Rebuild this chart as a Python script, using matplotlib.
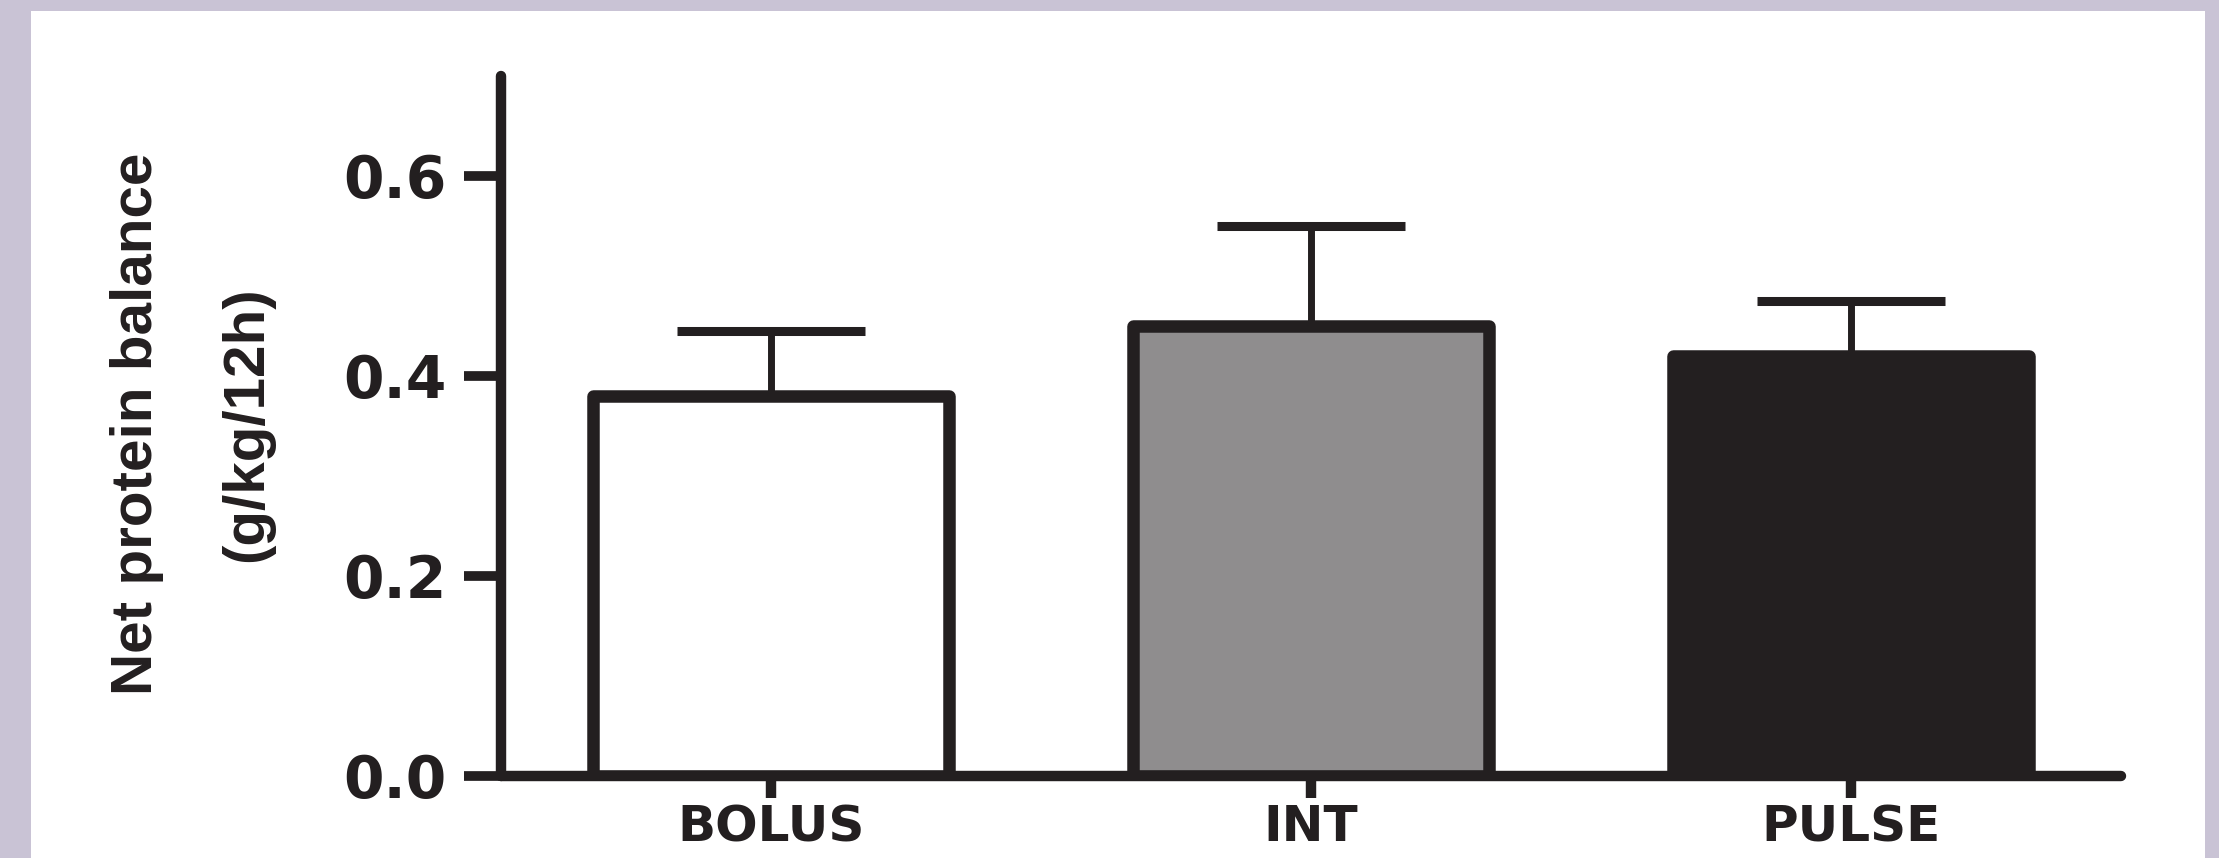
import matplotlib
matplotlib.use("Agg")
import matplotlib.pyplot as plt
from matplotlib.patches import Rectangle
import numpy as np

groups = ["BOLUS", "INT", "PULSE"]
balance = [0.38, 0.45, 0.42]
balance_sem = [0.065, 0.10, 0.055]
bar_colors = ["#ffffff", "#8f8d8e", "#231f20"]
y_ticks = [0.0, 0.2, 0.4, 0.6]
y_tick_labels = ["0.0", "0.2", "0.4", "0.6"]

ink = "#231f20"
W, H = 2219, 858

fig = plt.figure(figsize=(W / 100, H / 100), dpi=100, facecolor="#c9c3d5")
# white panel on the lavender frame
fig.add_artist(Rectangle((31 / W, 0), (2205 - 31) / W, (H - 11) / H,
                         transform=fig.transFigure, facecolor="white",
                         edgecolor="none", zorder=-1))

ax = fig.add_axes([501 / W, 82.5 / H, 1620 / W, 700 / H])
ax.set_facecolor("none")

x = np.arange(len(groups))
ax.errorbar(x, balance, yerr=[np.zeros(len(x)), balance_sem], fmt="none",
            ecolor=ink, elinewidth=5, capsize=68, capthick=6.5, zorder=1)
bars = ax.bar(x, balance, width=0.66, color=bar_colors, edgecolor=ink,
              linewidth=9, zorder=2)
for b in bars:
    b.set_joinstyle("round")

ax.set_xlim(-0.5, 2.5)
ax.set_ylim(0, 0.7)

for side in ["top", "right"]:
    ax.spines[side].set_visible(False)
for side in ["left", "bottom"]:
    ax.spines[side].set_linewidth(7.5)
    ax.spines[side].set_color(ink)
    ax.spines[side].set_capstyle("round")

ax.set_yticks(y_ticks)
ax.set_yticklabels(y_tick_labels, fontfamily="DejaVu Sans", fontweight="bold",
                   fontsize=42, color=ink)
ax.set_xticks(x)
ax.set_xticklabels(groups, fontfamily="DejaVu Sans", fontweight="bold",
                   fontsize=36, color=ink)
ax.tick_params(axis="y", direction="out", length=27, width=7, color=ink, pad=12)
ax.tick_params(axis="x", direction="out", length=16, width=7.5, color=ink, pad=4)

ax.set_ylabel("Net protein balance\n(g/kg/12h)",
              fontfamily=["Liberation Sans", "DejaVu Sans"], fontweight="bold",
              fontsize=42, color=ink, linespacing=2.35, ha="center", va="center")
ax.yaxis.set_label_coords(-0.1907, 0.502)

fig.savefig("out.png", dpi=100, facecolor=fig.get_facecolor())
